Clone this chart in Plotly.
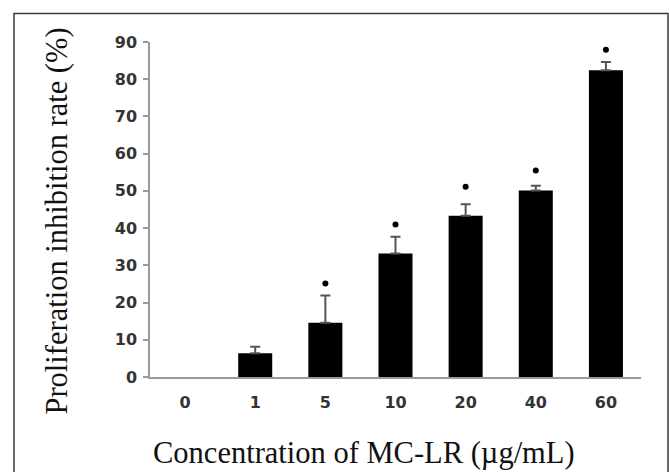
import plotly.graph_objects as go

# Data
concentrations = ["0", "1", "5", "10", "20", "40", "60"]
inhibition = [0.0, 6.4, 14.6, 33.2, 43.3, 50.1, 82.4]
err_cats = ["1", "5", "10", "20", "40", "60"]
err_base = [6.4, 14.6, 33.2, 43.3, 50.1, 82.4]
error_up = [1.7, 7.3, 4.5, 3.1, 1.3, 2.2]
star_cats = ["5", "10", "20", "40", "60"]
star_y = [25.1, 41.0, 51.1, 55.5, 87.9]
y_ticks = [0, 10, 20, 30, 40, 50, 60, 70, 80, 90]

W, H = 669, 472
ML, MR, MT, MB = 150, 28, 42, 95
PW, PH = W - ML - MR, H - MT - MB

def px_x(p):
    return (p - ML) / PW

def px_y(p):
    return (H - MB - p) / PH

fig = go.Figure()
fig.add_trace(go.Scatter(
    x=err_cats, y=err_base, mode="markers",
    marker=dict(size=0.1, color="rgba(0,0,0,0)"),
    error_y=dict(type="data", array=error_up, arrayminus=[0] * len(error_up),
                 symmetric=False, color="#555555", thickness=2, width=5),
    showlegend=False, hoverinfo="skip",
))
fig.add_trace(go.Bar(
    x=concentrations, y=inhibition, width=0.485,
    marker=dict(color="black", line=dict(width=0)),
    showlegend=False,
))
fig.add_trace(go.Scatter(
    x=star_cats, y=star_y, mode="markers",
    marker=dict(symbol="circle", size=6, color="black"),
    showlegend=False,
))

tick_font = dict(family="DejaVu Sans", size=16, color="#333333", weight="bold")

fig.update_layout(
    width=W, height=H,
    margin=dict(l=ML, r=MR, t=MT, b=MB, pad=0),
    paper_bgcolor="white", plot_bgcolor="white",
    xaxis=dict(
        type="category", range=[-0.5, 6.5], categoryorder="array",
        categoryarray=concentrations,
        showline=True, linecolor="#999999", linewidth=1.5,
        showgrid=False, zeroline=False, ticks="",
        tickfont=tick_font, ticklabelstandoff=10,
    ),
    yaxis=dict(
        range=[0, 90], tickvals=y_ticks,
        showline=True, linecolor="#999999", linewidth=1.5,
        showgrid=False, zeroline=False,
        ticks="outside", ticklen=5, tickcolor="#999999", tickwidth=1.5,
        tickfont=tick_font, ticklabelstandoff=3,
    ),
    shapes=[dict(
        type="rect", xref="paper", yref="paper",
        x0=px_x(14), x1=px_x(668), y0=px_y(485), y1=px_y(13.5),
        line=dict(color="#3a3a3a", width=1.5), fillcolor="rgba(0,0,0,0)",
        layer="below",
    )],
    annotations=[
        dict(text="Proliferation inhibition rate (%)", textangle=-90,
             xref="paper", yref="paper", x=px_x(56.5), y=px_y(221),
             xanchor="center", yanchor="middle", showarrow=False,
             font=dict(family="Liberation Serif", size=30.5, color="#111111")),
        dict(text="Concentration of MC-LR (µg/mL)",
             xref="paper", yref="paper", x=px_x(363.5), y=px_y(453),
             xanchor="center", yanchor="middle", showarrow=False,
             font=dict(family="Liberation Serif", size=30.5, color="#111111")),
    ],
)

fig.write_html("out.html", config={"displayModeBar": False},
               post_script="document.body.style.margin='0';document.body.style.overflow='hidden';")
